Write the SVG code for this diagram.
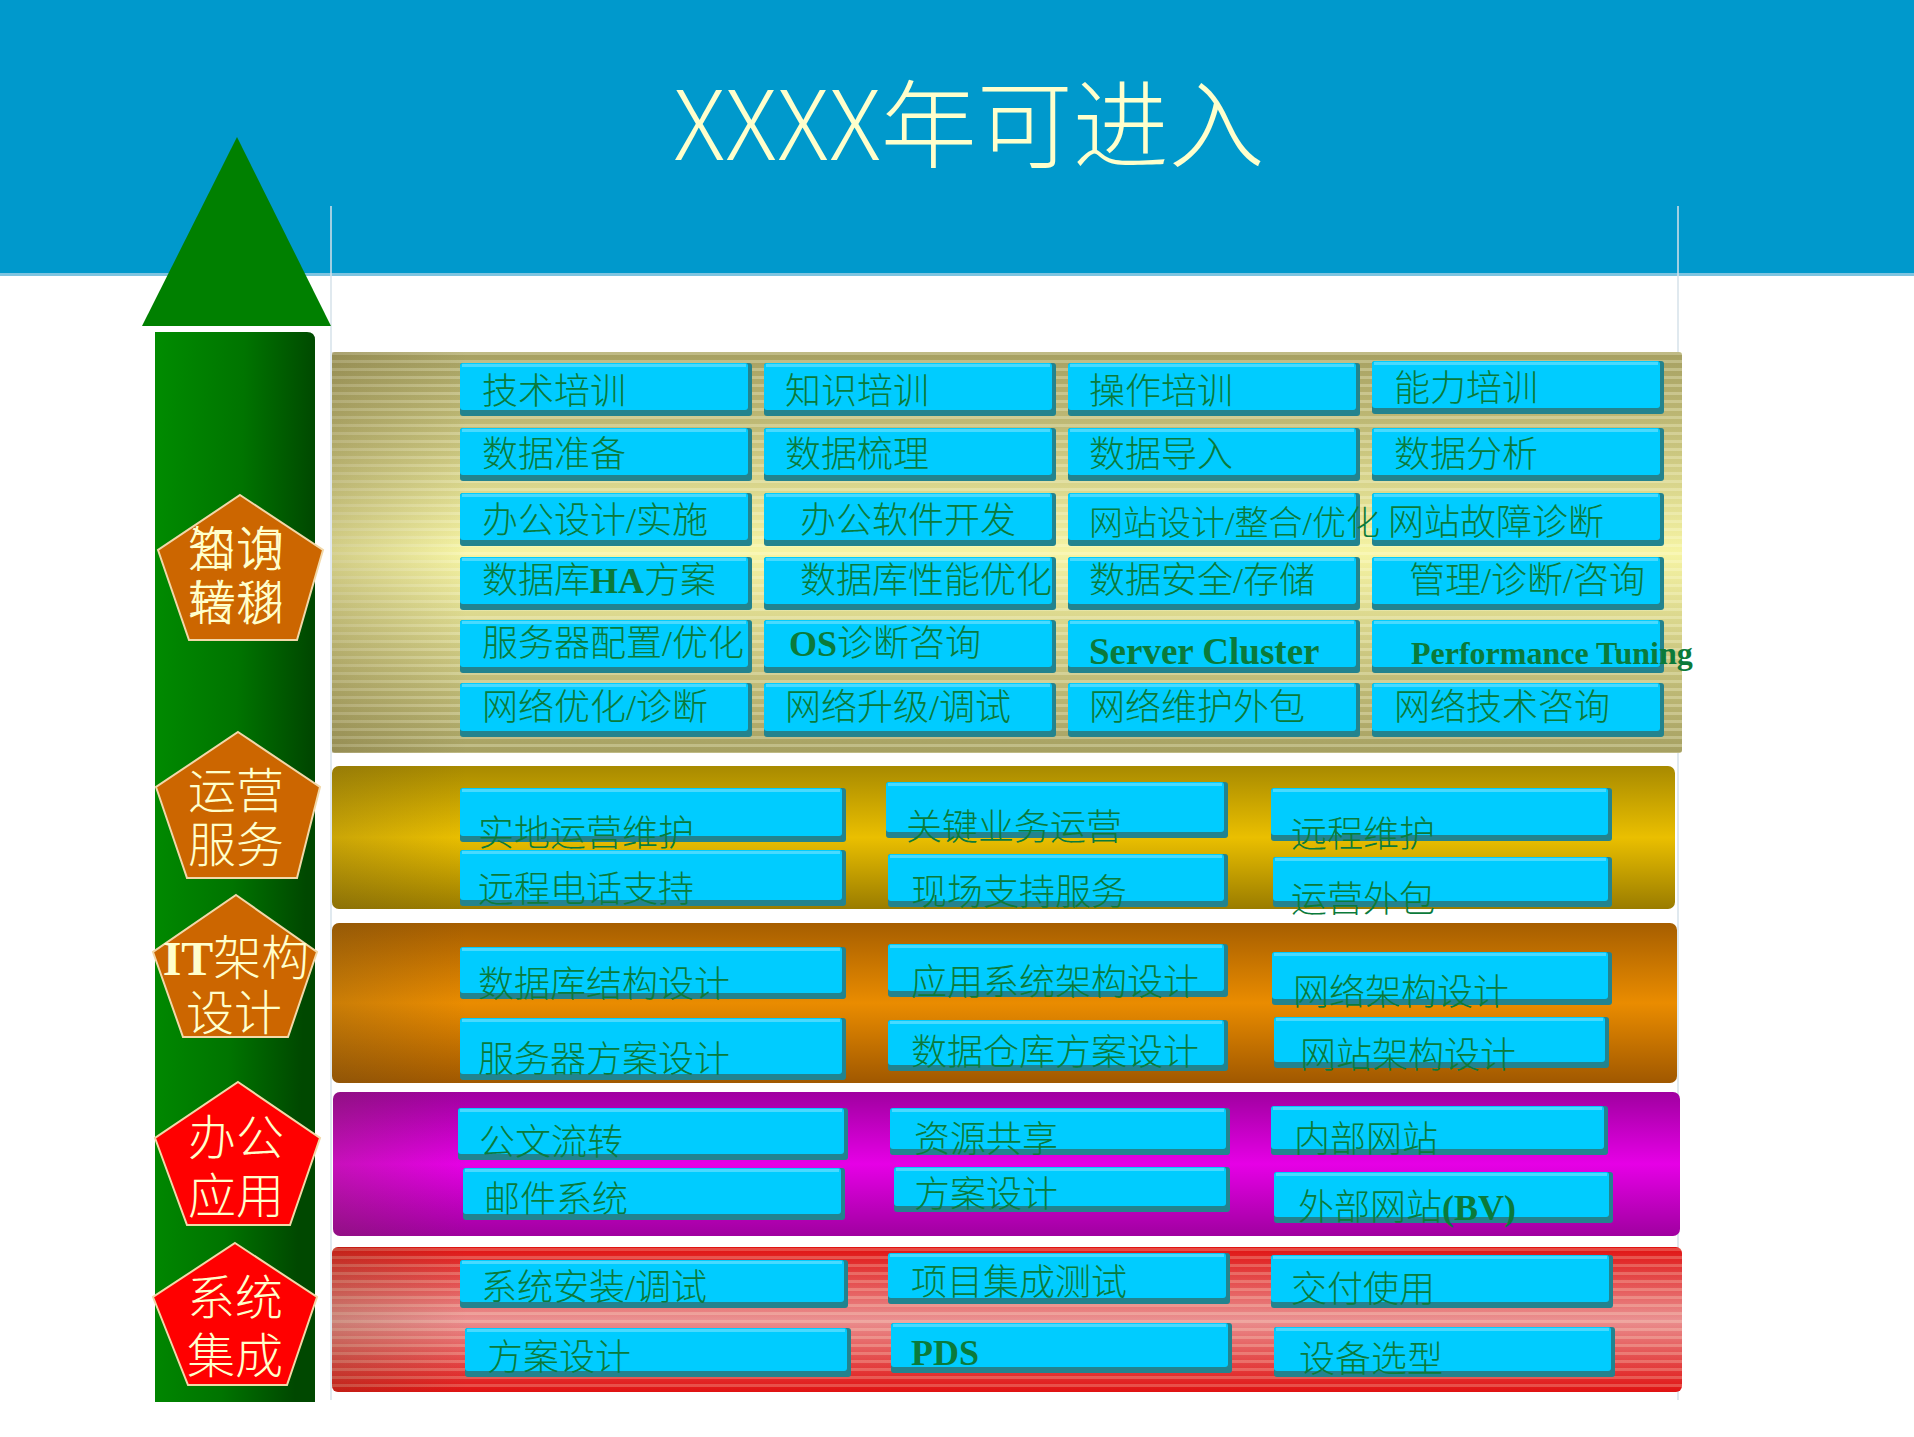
<svg xmlns="http://www.w3.org/2000/svg" width="1914" height="1437" viewBox="0 0 1914 1437">
<defs>
<style>
.t{font-family:"Liberation Serif","Noto Sans CJK SC",serif;font-size:36px;fill:#0B7A3B;font-weight:300}
.b{font-weight:bold}
.pt{font-family:"Liberation Serif","Noto Sans CJK SC",serif;font-size:48px;fill:#FFFFCC;text-anchor:middle;font-weight:300}
.sh{fill:#23838E}
.bx{fill:#00CCFF}
.hl{fill:#66E0FF;opacity:0.7}
.pg{stroke:#F2D8A8;stroke-width:2}
</style>
<linearGradient id="gShaft" x1="0" y1="0" x2="1" y2="0.15">
<stop offset="0" stop-color="#008C00"/><stop offset="0.55" stop-color="#007400"/><stop offset="1" stop-color="#004800"/>
</linearGradient>
<linearGradient id="gB1" x1="0" y1="0" x2="0" y2="1">
<stop offset="0" stop-color="#A6A062"/><stop offset="0.2" stop-color="#C2BD78"/><stop offset="0.5" stop-color="#F6F4A4"/><stop offset="0.8" stop-color="#C4BF7A"/><stop offset="1" stop-color="#A6A062"/>
</linearGradient>
<linearGradient id="gB2" x1="0" y1="0" x2="0" y2="1">
<stop offset="0" stop-color="#A88A00"/><stop offset="0.5" stop-color="#EABF00"/><stop offset="1" stop-color="#9A7C00"/>
</linearGradient>
<linearGradient id="gB3" x1="0" y1="0" x2="0" y2="1">
<stop offset="0" stop-color="#A65E00"/><stop offset="0.5" stop-color="#EA8C00"/><stop offset="1" stop-color="#A05800"/>
</linearGradient>
<linearGradient id="gB4" x1="0" y1="0" x2="0" y2="1">
<stop offset="0" stop-color="#A000A0"/><stop offset="0.5" stop-color="#E600E6"/><stop offset="1" stop-color="#A000A0"/>
</linearGradient>
<linearGradient id="gB5" x1="0" y1="0" x2="0" y2="1">
<stop offset="0" stop-color="#E01212"/><stop offset="0.5" stop-color="#EA9090"/><stop offset="1" stop-color="#E01212"/>
</linearGradient>
<linearGradient id="gLeft" x1="0" y1="0" x2="1" y2="0">
<stop offset="0" stop-color="#5A4A20" stop-opacity="0.22"/><stop offset="0.1" stop-color="#5A4A20" stop-opacity="0"/>
</linearGradient>
<pattern id="stripes" width="10" height="8" patternUnits="userSpaceOnUse">
<rect width="10" height="3" fill="#FFFFE0" opacity="0.28"/>
</pattern>
</defs>

<rect width="1914" height="1437" fill="#FFFFFF"/>
<g id="header">
<rect x="0" y="0" width="1914" height="275" fill="#0099CC"/>
<rect x="0" y="273" width="1914" height="3" fill="#7FC4E0"/>
<text x="969" y="160" font-family="Noto Sans CJK SC, sans-serif" font-size="96" font-weight="300" fill="#FFFFCC" text-anchor="middle">XXXX年可进入</text>
</g>

<g id="guides" stroke="#D6E2EA" stroke-width="1.5">
<line x1="331" y1="206" x2="331" y2="1400"/>
<line x1="1678" y1="206" x2="1678" y2="1400"/>
</g>

<g id="arrow">
<polygon points="237,137 331,326 142,326" fill="#008000"/>
<path d="M155,332 H307 Q315,332 315,340 V1402 H155 Z" fill="url(#gShaft)"/>
</g>

<g id="bands">
<g id="band1">
<rect x="332" y="352" width="1350" height="401" rx="3" fill="url(#gB1)"/>
<rect x="332" y="352" width="1350" height="401" fill="url(#stripes)"/>
<rect x="332" y="352" width="1350" height="401" fill="url(#gLeft)"/>
</g>
<g id="band2">
<rect x="332" y="766" width="1343" height="143" rx="7" fill="url(#gB2)"/>
<rect x="332" y="766" width="1343" height="143" rx="7" fill="url(#gLeft)"/>
</g>
<g id="band3">
<rect x="332" y="923" width="1345" height="160" rx="7" fill="url(#gB3)"/>
<rect x="332" y="923" width="1345" height="160" rx="7" fill="url(#gLeft)"/>
</g>
<g id="band4">
<rect x="333" y="1092" width="1347" height="144" rx="7" fill="url(#gB4)"/>
<rect x="333" y="1092" width="1347" height="144" rx="7" fill="url(#gLeft)"/>
</g>
<g id="band5">
<rect x="332" y="1247" width="1350" height="145" rx="6" fill="url(#gB5)"/>
<rect x="332" y="1247" width="1350" height="145" fill="url(#stripes)" opacity="0.8"/>
<rect x="332" y="1247" width="1350" height="145" rx="6" fill="url(#gLeft)"/>
</g>
</g>

<g id="connectors"></g>

<!-- pentagons -->
<g id="p-consult">
<polygon class="pg" points="240,495 323,550 297,640 189,640 158,550" fill="#CC6600"/>
<text class="pt" x="236" y="566">知识</text>
<text class="pt" x="236" y="620">转移</text>
<text class="pt" x="236" y="566">咨询</text>
<text class="pt" x="236" y="620">培训</text>
</g>
<g id="p-ops">
<polygon class="pg" points="238,732 320,787 297,878 187,878 156,787" fill="#CC6600"/>
<text class="pt" x="236" y="808">运营</text>
<text class="pt" x="236" y="862">服务</text>
</g>
<g id="p-arch">
<polygon class="pg" points="236,895 317,952 288,1037 183,1037 153,952" fill="#CC6600"/>
<text class="pt" x="236" y="975"><tspan font-weight="bold">IT</tspan>架构</text>
<text class="pt" x="234" y="1030">设计</text>
</g>
<g id="p-office">
<polygon class="pg" points="238,1082 320,1138 290,1225 187,1225 155,1138" fill="#FF0000"/>
<text class="pt" x="236" y="1155">办公</text>
<text class="pt" x="236" y="1213">应用</text>
</g>
<g id="p-si">
<polygon class="pg" points="235,1243 317,1297 287,1385 188,1385 153,1297" fill="#FF0000"/>
<text class="pt" x="235" y="1315">系统</text>
<text class="pt" x="235" y="1373">集成</text>
</g>

<!-- band 1 boxes -->
<g id="b1-r1c1"><rect class="sh" x="460" y="363" width="292" height="53" rx="3"/><rect class="bx" x="460" y="363" width="288" height="47" rx="3"/><rect class="hl" x="462" y="364" width="284" height="3"/><text class="t" x="482" y="404">技术培训</text></g>
<g id="b1-r1c2"><rect class="sh" x="764" y="363" width="292" height="53" rx="3"/><rect class="bx" x="764" y="363" width="288" height="47" rx="3"/><rect class="hl" x="766" y="364" width="284" height="3"/><text class="t" x="785" y="404">知识培训</text></g>
<g id="b1-r1c3"><rect class="sh" x="1068" y="363" width="292" height="53" rx="3"/><rect class="bx" x="1068" y="363" width="288" height="47" rx="3"/><rect class="hl" x="1070" y="364" width="284" height="3"/><text class="t" x="1089" y="404">操作培训</text></g>
<g id="b1-r1c4"><rect class="sh" x="1372" y="361" width="292" height="53" rx="3"/><rect class="bx" x="1372" y="361" width="288" height="47" rx="3"/><rect class="hl" x="1374" y="362" width="284" height="3"/><text class="t" x="1394" y="401">能力培训</text></g>

<g id="b1-r2c1"><rect class="sh" x="460" y="428" width="292" height="53" rx="3"/><rect class="bx" x="460" y="428" width="288" height="47" rx="3"/><rect class="hl" x="462" y="429" width="284" height="3"/><text class="t" x="482" y="467">数据准备</text></g>
<g id="b1-r2c2"><rect class="sh" x="764" y="428" width="292" height="53" rx="3"/><rect class="bx" x="764" y="428" width="288" height="47" rx="3"/><rect class="hl" x="766" y="429" width="284" height="3"/><text class="t" x="785" y="467">数据梳理</text></g>
<g id="b1-r2c3"><rect class="sh" x="1068" y="428" width="292" height="53" rx="3"/><rect class="bx" x="1068" y="428" width="288" height="47" rx="3"/><rect class="hl" x="1070" y="429" width="284" height="3"/><text class="t" x="1089" y="467">数据导入</text></g>
<g id="b1-r2c4"><rect class="sh" x="1372" y="428" width="292" height="53" rx="3"/><rect class="bx" x="1372" y="428" width="288" height="47" rx="3"/><rect class="hl" x="1374" y="429" width="284" height="3"/><text class="t" x="1394" y="467">数据分析</text></g>

<g id="b1-r3c1"><rect class="sh" x="460" y="493" width="292" height="53" rx="3"/><rect class="bx" x="460" y="493" width="288" height="47" rx="3"/><rect class="hl" x="462" y="494" width="284" height="3"/><text class="t" x="482" y="533">办公设计/实施</text></g>
<g id="b1-r3c2"><rect class="sh" x="764" y="493" width="292" height="53" rx="3"/><rect class="bx" x="764" y="493" width="288" height="47" rx="3"/><rect class="hl" x="766" y="494" width="284" height="3"/><text class="t" x="800" y="533">办公软件开发</text></g>
<g id="b1-r3c3"><rect class="sh" x="1068" y="493" width="292" height="53" rx="3"/><rect class="bx" x="1068" y="493" width="288" height="47" rx="3"/><rect class="hl" x="1070" y="494" width="284" height="3"/></g>
<g id="b1-r3c4"><rect class="sh" x="1372" y="493" width="292" height="53" rx="3"/><rect class="bx" x="1372" y="493" width="288" height="47" rx="3"/><rect class="hl" x="1374" y="494" width="284" height="3"/><text class="t" x="1388" y="535">网站故障诊断</text></g>
<text class="t" x="1089" y="535" style="font-size:34px">网站设计/整合/优化</text>

<g id="b1-r4c1"><rect class="sh" x="460" y="557" width="292" height="53" rx="3"/><rect class="bx" x="460" y="557" width="288" height="47" rx="3"/><rect class="hl" x="462" y="558" width="284" height="3"/><text class="t" x="482" y="593">数据库<tspan class="b">HA</tspan>方案</text></g>
<g id="b1-r4c2"><rect class="sh" x="764" y="557" width="292" height="53" rx="3"/><rect class="bx" x="764" y="557" width="288" height="47" rx="3"/><rect class="hl" x="766" y="558" width="284" height="3"/><text class="t" x="800" y="593">数据库性能优化</text></g>
<g id="b1-r4c3"><rect class="sh" x="1068" y="557" width="292" height="53" rx="3"/><rect class="bx" x="1068" y="557" width="288" height="47" rx="3"/><rect class="hl" x="1070" y="558" width="284" height="3"/><text class="t" x="1089" y="593">数据安全/存储</text></g>
<g id="b1-r4c4"><rect class="sh" x="1372" y="557" width="292" height="53" rx="3"/><rect class="bx" x="1372" y="557" width="288" height="47" rx="3"/><rect class="hl" x="1374" y="558" width="284" height="3"/><text class="t" x="1409" y="593">管理/诊断/咨询</text></g>

<g id="b1-r5c1"><rect class="sh" x="460" y="620" width="292" height="53" rx="3"/><rect class="bx" x="460" y="620" width="288" height="47" rx="3"/><rect class="hl" x="462" y="621" width="284" height="3"/><text class="t" x="482" y="656">服务器配置/优化</text></g>
<g id="b1-r5c2"><rect class="sh" x="764" y="620" width="292" height="53" rx="3"/><rect class="bx" x="764" y="620" width="288" height="47" rx="3"/><rect class="hl" x="766" y="621" width="284" height="3"/><text class="t" x="789" y="656"><tspan class="b">OS</tspan>诊断咨询</text></g>
<g id="b1-r5c3"><rect class="sh" x="1068" y="620" width="292" height="53" rx="3"/><rect class="bx" x="1068" y="620" width="288" height="47" rx="3"/><rect class="hl" x="1070" y="621" width="284" height="3"/><text class="t b" x="1089" y="664" style="font-size:37px">Server Cluster</text></g>
<g id="b1-r5c4"><rect class="sh" x="1372" y="620" width="292" height="53" rx="3"/><rect class="bx" x="1372" y="620" width="288" height="47" rx="3"/><rect class="hl" x="1374" y="621" width="284" height="3"/></g>
<text class="t b" x="1411" y="664" style="font-size:32px">Performance Tuning</text>

<g id="b1-r6c1"><rect class="sh" x="460" y="683" width="292" height="54" rx="3"/><rect class="bx" x="460" y="683" width="288" height="48" rx="3"/><rect class="hl" x="462" y="684" width="284" height="3"/><text class="t" x="482" y="720">网络优化/诊断</text></g>
<g id="b1-r6c2"><rect class="sh" x="764" y="683" width="292" height="54" rx="3"/><rect class="bx" x="764" y="683" width="288" height="48" rx="3"/><rect class="hl" x="766" y="684" width="284" height="3"/><text class="t" x="785" y="720">网络升级/调试</text></g>
<g id="b1-r6c3"><rect class="sh" x="1068" y="683" width="292" height="54" rx="3"/><rect class="bx" x="1068" y="683" width="288" height="48" rx="3"/><rect class="hl" x="1070" y="684" width="284" height="3"/><text class="t" x="1089" y="720">网络维护外包</text></g>
<g id="b1-r6c4"><rect class="sh" x="1372" y="683" width="292" height="54" rx="3"/><rect class="bx" x="1372" y="683" width="288" height="48" rx="3"/><rect class="hl" x="1374" y="684" width="284" height="3"/><text class="t" x="1394" y="720">网络技术咨询</text></g>

<!-- band 2 boxes -->
<g id="b2-r1c1"><rect class="sh" x="460" y="788" width="386" height="54" rx="3"/><rect class="bx" x="460" y="788" width="382" height="48" rx="3"/><rect class="hl" x="462" y="789" width="378" height="3"/></g>
<g id="b2-r2c1"><rect class="sh" x="460" y="850" width="386" height="56" rx="3"/><rect class="bx" x="460" y="850" width="382" height="50" rx="3"/><rect class="hl" x="462" y="851" width="378" height="3"/></g>
<g id="b2-r1c2"><rect class="sh" x="886" y="782" width="342" height="56" rx="3"/><rect class="bx" x="886" y="782" width="338" height="50" rx="3"/><rect class="hl" x="888" y="783" width="334" height="3"/></g>
<g id="b2-r2c2"><rect class="sh" x="888" y="854" width="340" height="53" rx="3"/><rect class="bx" x="888" y="854" width="336" height="47" rx="3"/><rect class="hl" x="890" y="855" width="332" height="3"/></g>
<g id="b2-r1c3"><rect class="sh" x="1271" y="788" width="341" height="53" rx="3"/><rect class="bx" x="1271" y="788" width="337" height="47" rx="3"/><rect class="hl" x="1273" y="789" width="333" height="3"/></g>
<g id="b2-r2c3"><rect class="sh" x="1273" y="857" width="339" height="50" rx="3"/><rect class="bx" x="1273" y="857" width="335" height="44" rx="3"/><rect class="hl" x="1275" y="858" width="331" height="3"/></g>
<g id="b2-texts">
<text class="t" x="478" y="846">实地运营维护</text>
<text class="t" x="478" y="902">远程电话支持</text>
<text class="t" x="906" y="840">关键业务运营</text>
<text class="t" x="911" y="905">现场支持服务</text>
<text class="t" x="1291" y="847">远程维护</text>
<text class="t" x="1291" y="912">运营外包</text>
</g>

<!-- band 3 boxes -->
<g id="b3-r1c1"><rect class="sh" x="460" y="947" width="386" height="52" rx="3"/><rect class="bx" x="460" y="947" width="382" height="46" rx="3"/><rect class="hl" x="462" y="948" width="378" height="3"/></g>
<g id="b3-r2c1"><rect class="sh" x="460" y="1018" width="386" height="62" rx="3"/><rect class="bx" x="460" y="1018" width="382" height="56" rx="3"/><rect class="hl" x="462" y="1019" width="378" height="3"/></g>
<g id="b3-r1c2"><rect class="sh" x="888" y="944" width="340" height="53" rx="3"/><rect class="bx" x="888" y="944" width="336" height="47" rx="3"/><rect class="hl" x="890" y="945" width="332" height="3"/></g>
<g id="b3-r2c2"><rect class="sh" x="888" y="1020" width="340" height="51" rx="3"/><rect class="bx" x="888" y="1020" width="336" height="45" rx="3"/><rect class="hl" x="890" y="1021" width="332" height="3"/></g>
<g id="b3-r1c3"><rect class="sh" x="1272" y="952" width="340" height="53" rx="3"/><rect class="bx" x="1272" y="952" width="336" height="47" rx="3"/><rect class="hl" x="1274" y="953" width="332" height="3"/></g>
<g id="b3-r2c3"><rect class="sh" x="1274" y="1017" width="335" height="51" rx="3"/><rect class="bx" x="1274" y="1017" width="331" height="45" rx="3"/><rect class="hl" x="1276" y="1018" width="327" height="3"/></g>
<g id="b3-texts">
<text class="t" x="478" y="997">数据库结构设计</text>
<text class="t" x="478" y="1072">服务器方案设计</text>
<text class="t" x="911" y="995">应用系统架构设计</text>
<text class="t" x="911" y="1065">数据仓库方案设计</text>
<text class="t" x="1293" y="1005">网络架构设计</text>
<text class="t" x="1300" y="1068">网站架构设计</text>
</g>

<!-- band 4 boxes -->
<g id="b4-r1c1"><rect class="sh" x="458" y="1108" width="390" height="52" rx="3"/><rect class="bx" x="458" y="1108" width="386" height="46" rx="3"/><rect class="hl" x="460" y="1109" width="382" height="3"/></g>
<g id="b4-r2c1"><rect class="sh" x="463" y="1168" width="382" height="52" rx="3"/><rect class="bx" x="463" y="1168" width="378" height="46" rx="3"/><rect class="hl" x="465" y="1169" width="374" height="3"/></g>
<g id="b4-r1c2"><rect class="sh" x="890" y="1108" width="340" height="47" rx="3"/><rect class="bx" x="890" y="1108" width="336" height="41" rx="3"/><rect class="hl" x="892" y="1109" width="332" height="3"/></g>
<g id="b4-r2c2"><rect class="sh" x="894" y="1167" width="336" height="45" rx="3"/><rect class="bx" x="894" y="1167" width="332" height="39" rx="3"/><rect class="hl" x="896" y="1168" width="328" height="3"/></g>
<g id="b4-r1c3"><rect class="sh" x="1271" y="1106" width="337" height="49" rx="3"/><rect class="bx" x="1271" y="1106" width="333" height="43" rx="3"/><rect class="hl" x="1273" y="1107" width="329" height="3"/></g>
<g id="b4-r2c3"><rect class="sh" x="1274" y="1172" width="339" height="51" rx="3"/><rect class="bx" x="1274" y="1172" width="335" height="45" rx="3"/><rect class="hl" x="1276" y="1173" width="331" height="3"/></g>
<g id="b4-texts">
<text class="t" x="479" y="1155">公文流转</text>
<text class="t" x="484" y="1212">邮件系统</text>
<text class="t" x="914" y="1152">资源共享</text>
<text class="t" x="914" y="1207">方案设计</text>
<text class="t" x="1294" y="1152">内部网站</text>
<text class="t" x="1298" y="1220">外部网站<tspan class="b">(BV)</tspan></text>
</g>

<!-- band 5 boxes -->
<g id="b5-r1c1"><rect class="sh" x="460" y="1260" width="388" height="48" rx="3"/><rect class="bx" x="460" y="1260" width="384" height="42" rx="3"/><rect class="hl" x="462" y="1261" width="380" height="3"/></g>
<g id="b5-r2c1"><rect class="sh" x="465" y="1328" width="386" height="49" rx="3"/><rect class="bx" x="465" y="1328" width="382" height="43" rx="3"/><rect class="hl" x="467" y="1329" width="378" height="3"/></g>
<g id="b5-r1c2"><rect class="sh" x="888" y="1253" width="342" height="51" rx="3"/><rect class="bx" x="888" y="1253" width="338" height="45" rx="3"/><rect class="hl" x="890" y="1254" width="334" height="3"/></g>
<g id="b5-r2c2"><rect class="sh" x="891" y="1323" width="341" height="50" rx="3"/><rect class="bx" x="891" y="1323" width="337" height="44" rx="3"/><rect class="hl" x="893" y="1324" width="333" height="3"/></g>
<g id="b5-r1c3"><rect class="sh" x="1271" y="1255" width="342" height="53" rx="3"/><rect class="bx" x="1271" y="1255" width="338" height="47" rx="3"/><rect class="hl" x="1273" y="1256" width="334" height="3"/></g>
<g id="b5-r2c3"><rect class="sh" x="1274" y="1327" width="341" height="50" rx="3"/><rect class="bx" x="1274" y="1327" width="337" height="44" rx="3"/><rect class="hl" x="1276" y="1328" width="333" height="3"/></g>
<g id="b5-texts">
<text class="t" x="481" y="1300">系统安装/调试</text>
<text class="t" x="487" y="1370">方案设计</text>
<text class="t" x="911" y="1295">项目集成测试</text>
<text class="t b" x="911" y="1365">PDS</text>
<text class="t" x="1291" y="1302">交付使用</text>
<text class="t" x="1299" y="1372">设备选型</text>
</g>
</svg>
